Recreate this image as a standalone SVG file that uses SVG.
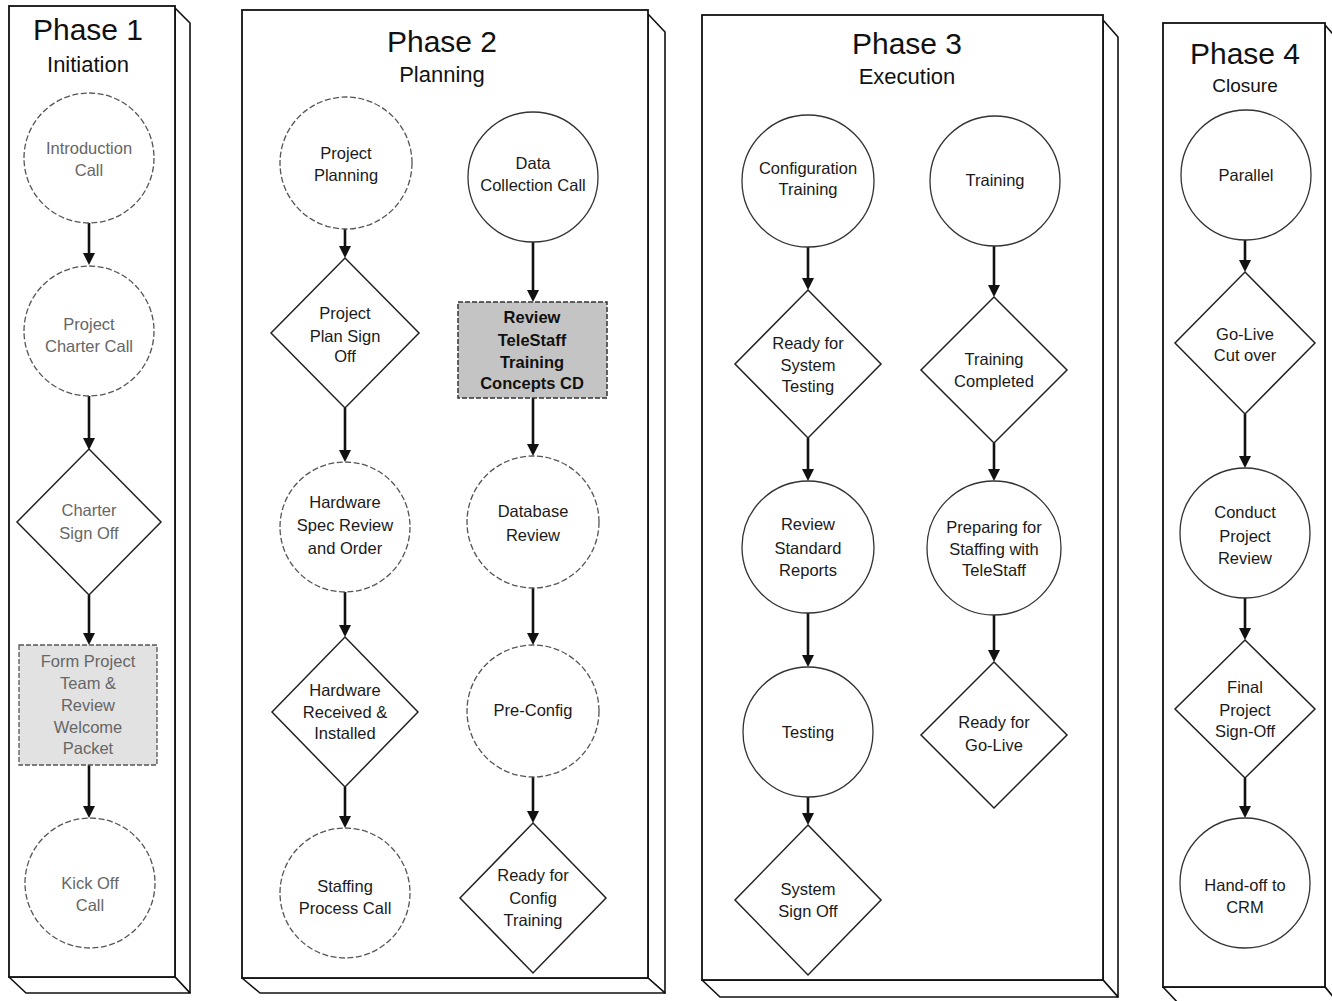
<svg xmlns="http://www.w3.org/2000/svg" width="1332" height="1001" viewBox="0 0 1332 1001">
<style>
.front{fill:#fff;stroke:#111;stroke-width:1.8}
.bevel{fill:#fff;stroke:#111;stroke-width:1.6;stroke-linejoin:round}
.circ{fill:#fff;stroke:#333;stroke-width:1.3}
.dash{stroke-dasharray:6 2.5;stroke:#555}
.dia{fill:#fff;stroke:#222;stroke-width:1.5}
.box1{fill:#e2e2e2;stroke:#555;stroke-width:1.3;stroke-dasharray:5 2}
.box2{fill:#c4c4c4;stroke:#333;stroke-width:1.5;stroke-dasharray:5 2}
text{font-family:"Liberation Sans",Arial,sans-serif;text-anchor:middle;fill:#1a1a1a}
.t{font-size:16.5px}
.faded{fill:#666}
.bold{font-weight:bold;fill:#111}
.title{font-size:30px;fill:#111}
.sub{font-size:22px;fill:#111}
.conn{stroke:#111;stroke-width:2.6;fill:none}
</style>
<defs>
<marker id="arr" viewBox="0 0 12 12" refX="8" refY="6" markerWidth="12" markerHeight="12" markerUnits="userSpaceOnUse" orient="auto">
<path d="M0,0 L12,6 L0,12 z" fill="#111"/>
</marker>
</defs>
<rect width="1332" height="1001" fill="#fff"/>

<!-- Panels -->
<g id="panel1">
<polygon class="bevel" points="175,8 190,23 190,993 175,977"/>
<polygon class="bevel" points="9,977 175,977 190,993 26,993"/>
<rect class="front" x="9" y="6" width="166" height="971"/>
<text class="title" x="88" y="40">Phase 1</text>
<text class="sub" x="88" y="72">Initiation</text>
</g>
<g id="panel2">
<polygon class="bevel" points="648,14 665,32 665,993 648,978"/>
<polygon class="bevel" points="242,978 648,978 665,993 260,993"/>
<rect class="front" x="242" y="10" width="406" height="968"/>
<text class="title" x="442" y="52">Phase 2</text>
<text class="sub" x="442" y="82">Planning</text>
</g>
<g id="panel3">
<polygon class="bevel" points="1103,20 1118,37 1118,997 1103,980"/>
<polygon class="bevel" points="702,980 1103,980 1118,997 720,997"/>
<rect class="front" x="702" y="15" width="401" height="965"/>
<text class="title" x="907" y="54">Phase 3</text>
<text class="sub" x="907" y="84">Execution</text>
</g>
<g id="panel4">
<polygon class="bevel" points="1325,25 1340,42 1340,1005 1325,987"/>
<polygon class="bevel" points="1163,987 1325,987 1340,1005 1180,1005"/>
<rect class="front" x="1163" y="23" width="162" height="964"/>
<text class="title" x="1245" y="64">Phase 4</text>
<text class="sub" x="1245" y="92" style="font-size:19px">Closure</text>
</g>

<!-- Connectors -->
<g id="connectors" marker-end="url(#arr)">
<path class="conn" d="M89,223 V261" marker-end="url(#arr)"/>
<path class="conn" d="M89,396 V446" marker-end="url(#arr)"/>
<path class="conn" d="M89,595 V641" marker-end="url(#arr)"/>
<path class="conn" d="M89,765 V814" marker-end="url(#arr)"/>

<path class="conn" d="M345,229 V254" marker-end="url(#arr)"/>
<path class="conn" d="M345,408 V458" marker-end="url(#arr)"/>
<path class="conn" d="M345,592 V633" marker-end="url(#arr)"/>
<path class="conn" d="M345,787 V824" marker-end="url(#arr)"/>

<path class="conn" d="M533,242 V298" marker-end="url(#arr)"/>
<path class="conn" d="M533,398 V452" marker-end="url(#arr)"/>
<path class="conn" d="M533,588 V641" marker-end="url(#arr)"/>
<path class="conn" d="M533,777 V819" marker-end="url(#arr)"/>

<path class="conn" d="M808,247 V286" marker-end="url(#arr)"/>
<path class="conn" d="M808,438 V477" marker-end="url(#arr)"/>
<path class="conn" d="M808,613 V663" marker-end="url(#arr)"/>
<path class="conn" d="M808,797 V821" marker-end="url(#arr)"/>

<path class="conn" d="M994,246 V293" marker-end="url(#arr)"/>
<path class="conn" d="M994,443 V477" marker-end="url(#arr)"/>
<path class="conn" d="M994,615 V658" marker-end="url(#arr)"/>

<path class="conn" d="M1245,240 V268" marker-end="url(#arr)"/>
<path class="conn" d="M1245,414 V464" marker-end="url(#arr)"/>
<path class="conn" d="M1245,598 V636" marker-end="url(#arr)"/>
<path class="conn" d="M1245,778 V814" marker-end="url(#arr)"/>
</g>

<!-- Phase 1 nodes -->
<g id="introduction-call">
<circle class="circ dash" cx="89" cy="158" r="65"/>
<text class="t faded" x="89" y="154">Introduction</text>
<text class="t faded" x="89" y="176">Call</text>
</g>
<g id="project-charter-call">
<circle class="circ dash" cx="89" cy="331" r="65"/>
<text class="t faded" x="89" y="330">Project</text>
<text class="t faded" x="89" y="352">Charter Call</text>
</g>
<g id="charter-sign-off">
<polygon class="dia" points="89,449 161,522 89,595 17,522"/>
<text class="t faded" x="89" y="516">Charter</text>
<text class="t faded" x="89" y="539">Sign Off</text>
</g>
<g id="form-project-team">
<rect class="box1" x="19" y="645" width="138" height="120"/>
<text class="t faded" x="88" y="667">Form Project</text>
<text class="t faded" x="88" y="689">Team &amp;</text>
<text class="t faded" x="88" y="711">Review</text>
<text class="t faded" x="88" y="733">Welcome</text>
<text class="t faded" x="88" y="754">Packet</text>
</g>
<g id="kick-off-call">
<circle class="circ dash" cx="90" cy="883" r="65"/>
<text class="t faded" x="90" y="889">Kick Off</text>
<text class="t faded" x="90" y="911">Call</text>
</g>

<!-- Phase 2 nodes -->
<g id="project-planning">
<circle class="circ dash" cx="346" cy="163" r="66"/>
<text class="t" x="346" y="159">Project</text>
<text class="t" x="346" y="181">Planning</text>
</g>
<g id="project-plan-sign-off">
<polygon class="dia" points="345,258 419,333 345,408 271,333"/>
<text class="t" x="345" y="319">Project</text>
<text class="t" x="345" y="342">Plan Sign</text>
<text class="t" x="345" y="362">Off</text>
</g>
<g id="hardware-spec-review">
<circle class="circ dash" cx="345" cy="527" r="65"/>
<text class="t" x="345" y="508">Hardware</text>
<text class="t" x="345" y="531">Spec Review</text>
<text class="t" x="345" y="554">and Order</text>
</g>
<g id="hardware-received">
<polygon class="dia" points="345,637 418,712 345,787 272,712"/>
<text class="t" x="345" y="696">Hardware</text>
<text class="t" x="345" y="718">Received &amp;</text>
<text class="t" x="345" y="739">Installed</text>
</g>
<g id="staffing-process-call">
<circle class="circ dash" cx="345" cy="893" r="65"/>
<text class="t" x="345" y="892">Staffing</text>
<text class="t" x="345" y="914">Process Call</text>
</g>
<g id="data-collection-call">
<circle class="circ" cx="533" cy="177" r="65"/>
<text class="t" x="533" y="169">Data</text>
<text class="t" x="533" y="191">Collection Call</text>
</g>
<g id="review-telestaff-cd">
<rect class="box2" x="458" y="302" width="149" height="96"/>
<text class="t bold" x="532" y="323">Review</text>
<text class="t bold" x="532" y="346">TeleStaff</text>
<text class="t bold" x="532" y="368">Training</text>
<text class="t bold" x="532" y="389">Concepts CD</text>
</g>
<g id="database-review">
<circle class="circ dash" cx="533" cy="522" r="66"/>
<text class="t" x="533" y="517">Database</text>
<text class="t" x="533" y="541">Review</text>
</g>
<g id="pre-config">
<circle class="circ dash" cx="533" cy="711" r="66"/>
<text class="t" x="533" y="716">Pre-Config</text>
</g>
<g id="ready-config-training">
<polygon class="dia" points="533,823 606,898 533,973 460,898"/>
<text class="t" x="533" y="881">Ready for</text>
<text class="t" x="533" y="904">Config</text>
<text class="t" x="533" y="926">Training</text>
</g>

<!-- Phase 3 nodes -->
<g id="configuration-training">
<circle class="circ" cx="808" cy="181" r="66"/>
<text class="t" x="808" y="174">Configuration</text>
<text class="t" x="808" y="195">Training</text>
</g>
<g id="ready-system-testing">
<polygon class="dia" points="808,290 881,364 808,438 735,364"/>
<text class="t" x="808" y="349">Ready for</text>
<text class="t" x="808" y="371">System</text>
<text class="t" x="808" y="392">Testing</text>
</g>
<g id="review-standard-reports">
<circle class="circ" cx="808" cy="547" r="66"/>
<text class="t" x="808" y="530">Review</text>
<text class="t" x="808" y="554">Standard</text>
<text class="t" x="808" y="576">Reports</text>
</g>
<g id="testing">
<circle class="circ" cx="808" cy="732" r="65"/>
<text class="t" x="808" y="738">Testing</text>
</g>
<g id="system-sign-off">
<polygon class="dia" points="808,825 881,900 808,975 735,900"/>
<text class="t" x="808" y="895">System</text>
<text class="t" x="808" y="917">Sign Off</text>
</g>
<g id="training">
<circle class="circ" cx="995" cy="181" r="65"/>
<text class="t" x="995" y="186">Training</text>
</g>
<g id="training-completed">
<polygon class="dia" points="994,297 1067,370 994,443 921,370"/>
<text class="t" x="994" y="365">Training</text>
<text class="t" x="994" y="387">Completed</text>
</g>
<g id="preparing-staffing">
<circle class="circ" cx="994" cy="548" r="67"/>
<text class="t" x="994" y="533">Preparing for</text>
<text class="t" x="994" y="555">Staffing with</text>
<text class="t" x="994" y="576">TeleStaff</text>
</g>
<g id="ready-go-live">
<polygon class="dia" points="994,662 1067,735 994,808 921,735"/>
<text class="t" x="994" y="728">Ready for</text>
<text class="t" x="994" y="751">Go-Live</text>
</g>

<!-- Phase 4 nodes -->
<g id="parallel">
<circle class="circ" cx="1246" cy="175" r="65"/>
<text class="t" x="1246" y="181">Parallel</text>
</g>
<g id="go-live-cut-over">
<polygon class="dia" points="1245,272 1315,343 1245,414 1175,343"/>
<text class="t" x="1245" y="340">Go-Live</text>
<text class="t" x="1245" y="361">Cut over</text>
</g>
<g id="conduct-project-review">
<circle class="circ" cx="1245" cy="533" r="65"/>
<text class="t" x="1245" y="518">Conduct</text>
<text class="t" x="1245" y="542">Project</text>
<text class="t" x="1245" y="564">Review</text>
</g>
<g id="final-project-sign-off">
<polygon class="dia" points="1245,640 1315,709 1245,778 1175,709"/>
<text class="t" x="1245" y="693">Final</text>
<text class="t" x="1245" y="716">Project</text>
<text class="t" x="1245" y="737">Sign-Off</text>
</g>
<g id="hand-off-crm">
<circle class="circ" cx="1245" cy="883" r="65"/>
<text class="t" x="1245" y="891">Hand-off to</text>
<text class="t" x="1245" y="913">CRM</text>
</g>
</svg>
